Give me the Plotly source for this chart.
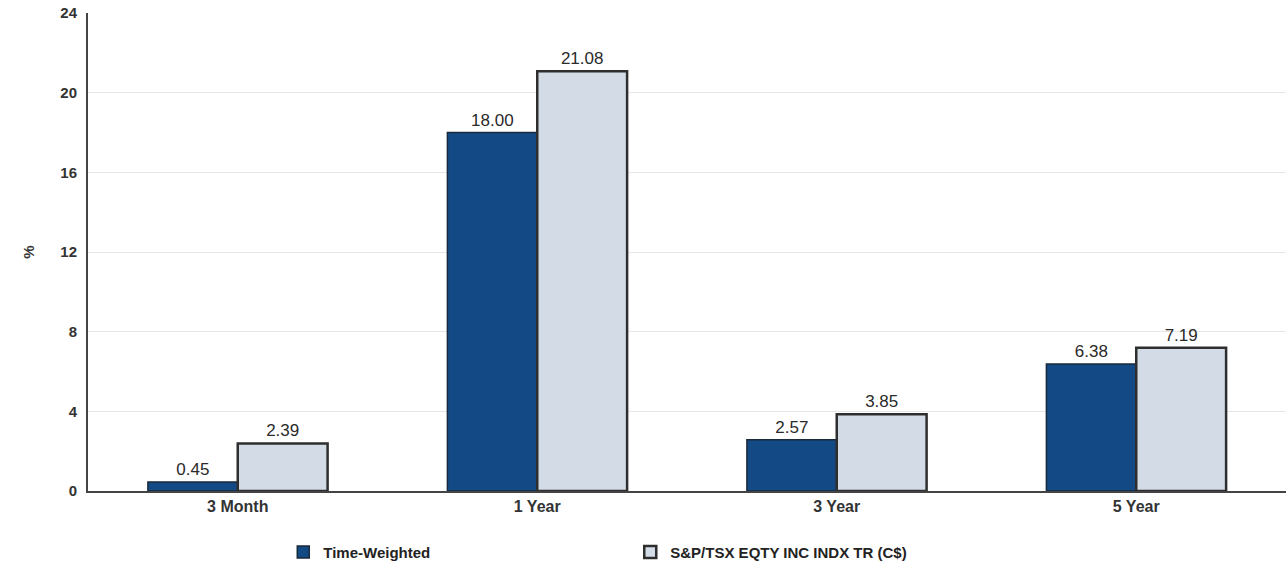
import plotly.graph_objects as go

categories = ["3 Month", "1 Year", "3 Year", "5 Year"]
time_weighted = [0.45, 18.00, 2.57, 6.38]
benchmark = [2.39, 21.08, 3.85, 7.19]
series_names = ["Time-Weighted", "S&P/TSX EQTY INC INDX TR (C$)"]
y_ticks = [0, 4, 8, 12, 16, 20, 24]

fig = go.Figure()
fig.add_trace(go.Bar(
    x=categories, y=time_weighted, name=series_names[0],
    marker=dict(color="#134a85", line=dict(color="#1a2a3a", width=1.5)),
    text=[f"{v:.2f}" for v in time_weighted], textposition="outside",
    textfont=dict(family="Arial", size=17, color="#2a2a2a"), cliponaxis=False,
))
fig.add_trace(go.Bar(
    x=categories, y=benchmark, name=series_names[1],
    marker=dict(color="#d3dce6", line=dict(color="#2e2e2e", width=2.5)),
    text=[f"{v:.2f}" for v in benchmark], textposition="outside",
    textfont=dict(family="Arial", size=17, color="#2a2a2a"), cliponaxis=False,
))

fig.update_layout(
    width=1286, height=569,
    margin=dict(l=88, r=0, t=13, b=78),
    paper_bgcolor="white", plot_bgcolor="white",
    barmode="group", bargap=0.4, bargroupgap=0,
    font=dict(family="Arial", color="#333333"),
    showlegend=True,
    legend=dict(orientation="h", x=0.163, xanchor="left", y=-0.128, yanchor="middle",
                entrywidth=302, entrywidthmode="pixels",
                font=dict(family="Arial", size=15, color="#222222", weight="bold")),
    xaxis=dict(showline=True, linecolor="#444444", linewidth=2, ticks="",
               tickfont=dict(family="Arial", size=16, color="#333333", weight="bold")),
    yaxis=dict(range=[0, 24], tickvals=y_ticks, showline=True, linecolor="#444444", linewidth=2,
               gridcolor="#e6e6e6", gridwidth=1, zeroline=False,
               tickfont=dict(family="Arial", size=15, color="#333333", weight="bold"),
               ticks="", ticklen=0, ticklabelstandoff=6,
               title=dict(text="%", font=dict(family="Arial", size=15, color="#333333", weight="bold"), standoff=22)),
)

fig.write_html("out.html")
